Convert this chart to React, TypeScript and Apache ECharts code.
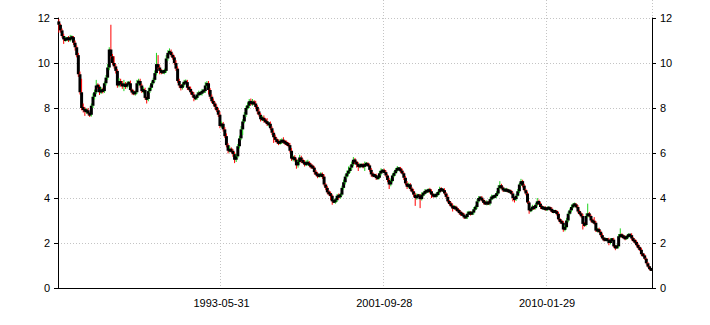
import React, { useEffect, useRef } from "react";
import * as echarts from "echarts";

// Monthly OHLC series, first bar = January 1985 (month-end business days)
const startYear = 1985;
const startMonth = 1;
const firstOpen = 11.85;

const closes = [
  11.7, 11.45, 11.2, 11.05, 11.05, 11.1, 11.05, 11.1, 11.15, 10.9,
  10.7, 10.35, 9.5, 8.7, 8.0, 7.95, 7.85, 7.9, 7.75, 7.7,
  8.1, 8.5, 8.7, 9.0, 8.95, 8.7, 8.8, 8.75, 9.1, 9.35,
  9.8, 10.6, 10.3, 10.0, 9.85, 9.65, 9.0, 9.2, 9.05, 9.0,
  9.05, 8.95, 9.1, 9.1, 8.8, 8.7, 8.65, 8.7, 9.1, 9.2,
  9.0, 8.75, 8.8, 8.45, 8.4, 8.75, 8.9, 9.1, 9.25, 9.55,
  9.95, 9.8, 9.65, 9.6, 9.6, 9.65, 10.2, 10.45, 10.5, 10.35,
  10.25, 10.0, 9.75, 9.2, 9.0, 8.9, 9.05, 9.15, 9.15, 8.9,
  8.85, 8.7, 8.6, 8.45, 8.45, 8.6, 8.65, 8.65, 8.75, 8.75,
  9.0, 9.1, 8.8, 8.5, 8.3, 8.2, 8.05, 7.9, 7.7, 7.2,
  7.3, 7.05, 6.75, 6.35, 6.1, 6.15, 6.1, 5.95, 5.7, 5.85,
  6.3, 6.65, 7.05, 7.4, 7.7, 8.0, 8.1, 8.3, 8.2, 8.25,
  8.2, 8.05, 7.85, 7.7, 7.5, 7.55, 7.45, 7.4, 7.3, 7.3,
  7.1, 6.9, 6.7, 6.6, 6.5, 6.45, 6.5, 6.55, 6.5, 6.45,
  6.4, 6.35, 6.1, 5.75, 5.8, 5.7, 5.45, 5.6, 5.8, 5.65,
  5.6, 5.5, 5.55, 5.55, 5.45, 5.4, 5.35, 5.15, 5.05, 5.0,
  5.0, 5.05, 4.95, 4.6, 4.45, 4.25, 4.2, 4.1, 3.85, 3.85,
  3.9, 4.1, 4.05, 4.15, 4.45, 4.7, 4.95, 5.1, 5.2, 5.35,
  5.5, 5.7, 5.6, 5.5, 5.4, 5.45, 5.45, 5.4, 5.5, 5.5,
  5.45, 5.25, 5.05, 5.0, 5.0, 4.9, 4.9, 5.1, 5.2, 5.2,
  5.15, 5.0, 4.8, 4.6, 4.75, 5.0, 5.1, 5.25, 5.3, 5.3,
  5.2, 5.1, 4.9, 4.65, 4.5, 4.6, 4.4, 4.3, 4.15, 4.0,
  4.1, 4.1, 3.95, 4.15, 4.2, 4.3, 4.3, 4.35, 4.3, 4.15,
  4.1, 4.1, 4.15, 4.25, 4.4, 4.35, 4.35, 4.2, 4.05, 3.85,
  3.75, 3.65, 3.55, 3.6, 3.5, 3.45, 3.35, 3.3, 3.25, 3.15,
  3.15, 3.3, 3.35, 3.3, 3.35, 3.5, 3.6, 3.85, 4.0, 4.0,
  3.9, 3.8, 3.75, 3.8, 3.75, 3.95, 4.05, 4.05, 4.1, 4.2,
  4.45, 4.55, 4.45, 4.35, 4.35, 4.35, 4.3, 4.3, 4.2, 4.0,
  3.95, 4.1, 4.3, 4.6, 4.75, 4.55, 4.35, 4.2, 3.8, 3.45,
  3.5, 3.6, 3.55, 3.7, 3.85, 3.75, 3.6, 3.55, 3.55, 3.5,
  3.55, 3.55, 3.5, 3.4, 3.4, 3.4, 3.3, 3.05, 2.95, 2.9,
  2.6, 2.7, 3.0, 3.3, 3.45, 3.6, 3.7, 3.7, 3.6, 3.4,
  3.3, 3.2, 2.85, 2.8, 3.2, 3.3, 3.2, 3.0, 2.95, 2.9,
  2.55, 2.6, 2.5, 2.35, 2.2, 2.15, 2.15, 2.15, 2.0, 2.15,
  2.15, 1.85, 1.8, 1.85, 2.3, 2.35, 2.3, 2.25, 2.2, 2.3,
  2.35, 2.35, 2.2, 2.1, 2.05, 1.9, 1.8, 1.7, 1.5, 1.45,
  1.3, 1.1, 0.95, 0.85, 0.8,
];

// Shadow length above the body (high - max(open, close))
const upperWick = [
  0.10, 0.05, 0.08, 0.10, 0.12, 0.06, 0.10, 0.15, 0.08, 0.05,
  0.10, 0.08, 0.10, 0.12, 0.60, 0.20, 0.10, 0.08, 0.10, 0.06,
  0.10, 0.15, 0.12, 0.25, 0.10, 0.08, 0.12, 0.10, 0.08, 0.12,
  0.15, 0.10, 1.10, 0.10, 0.30, 0.10, 0.08, 0.12, 0.10, 0.15,
  0.20, 0.10, 0.08, 0.10, 0.12, 0.06, 0.10, 0.08, 0.15, 0.10,
  0.10, 0.08, 0.12, 0.10, 0.06, 0.15, 0.10, 0.08, 0.10, 0.12,
  0.50, 0.40, 0.10, 0.08, 0.10, 0.10, 0.15, 0.12, 0.15, 0.10,
  0.10, 0.08, 0.12, 0.10, 0.10, 0.06, 0.08, 0.10, 0.12, 0.10,
  0.08, 0.10, 0.06, 0.10, 0.08, 0.10, 0.12, 0.08, 0.10, 0.08,
  0.15, 0.10, 0.10, 0.08, 0.10, 0.12, 0.08, 0.10, 0.10, 0.12,
  0.10, 0.08, 0.10, 0.12, 0.08, 0.15, 0.10, 0.08, 0.10, 0.12,
  0.10, 0.12, 0.15, 0.10, 0.12, 0.10, 0.15, 0.10, 0.12, 0.15,
  0.10, 0.12, 0.08, 0.10, 0.08, 0.10, 0.12, 0.10, 0.15, 0.08,
  0.10, 0.08, 0.10, 0.12, 0.08, 0.10, 0.12, 0.10, 0.15, 0.08,
  0.10, 0.08, 0.10, 0.12, 0.08, 0.10, 0.06, 0.12, 0.12, 0.08,
  0.10, 0.08, 0.12, 0.15, 0.08, 0.10, 0.08, 0.06, 0.10, 0.10,
  0.08, 0.10, 0.08, 0.10, 0.06, 0.08, 0.10, 0.08, 0.06, 0.08,
  0.10, 0.08, 0.10, 0.08, 0.10, 0.12, 0.10, 0.12, 0.20, 0.10,
  0.12, 0.12, 0.08, 0.06, 0.08, 0.10, 0.08, 0.10, 0.12, 0.10,
  0.08, 0.06, 0.08, 0.10, 0.06, 0.08, 0.10, 0.10, 0.12, 0.08,
  0.10, 0.08, 0.06, 0.10, 0.12, 0.08, 0.10, 0.08, 0.12, 0.08,
  0.08, 0.10, 0.06, 0.08, 0.10, 0.08, 0.06, 0.08, 0.10, 0.08,
  0.10, 0.08, 0.08, 0.10, 0.08, 0.10, 0.06, 0.08, 0.10, 0.08,
  0.06, 0.08, 0.10, 0.08, 0.10, 0.08, 0.06, 0.08, 0.06, 0.08,
  0.06, 0.08, 0.10, 0.08, 0.06, 0.08, 0.06, 0.08, 0.06, 0.08,
  0.08, 0.10, 0.08, 0.06, 0.08, 0.10, 0.08, 0.10, 0.08, 0.06,
  0.08, 0.06, 0.08, 0.10, 0.06, 0.08, 0.10, 0.08, 0.06, 0.10,
  0.12, 0.20, 0.08, 0.06, 0.08, 0.10, 0.06, 0.08, 0.06, 0.08,
  0.06, 0.08, 0.10, 0.08, 0.10, 0.06, 0.08, 0.06, 0.08, 0.06,
  0.08, 0.10, 0.06, 0.08, 0.15, 0.08, 0.06, 0.08, 0.06, 0.08,
  0.06, 0.08, 0.06, 0.08, 0.06, 0.08, 0.06, 0.08, 0.06, 0.08,
  0.08, 0.10, 0.12, 0.10, 0.08, 0.10, 0.08, 0.10, 0.06, 0.08,
  0.08, 0.06, 0.10, 0.08, 0.12, 0.45, 0.08, 0.06, 0.08, 0.20,
  0.08, 0.06, 0.08, 0.06, 0.08, 0.06, 0.08, 0.06, 0.08, 0.06,
  0.06, 0.08, 0.06, 0.08, 0.10, 0.30, 0.08, 0.06, 0.08, 0.06,
  0.08, 0.06, 0.08, 0.06, 0.08, 0.06, 0.08, 0.06, 0.08, 0.06,
  0.06, 0.05, 0.06, 0.05, 0.04,
];

// Shadow length below the body (min(open, close) - low)
const lowerWick = [
  0.35, 0.10, 0.08, 0.20, 0.10, 0.08, 0.12, 0.10, 0.06, 0.10,
  0.15, 0.10, 0.12, 0.10, 0.10, 0.15, 0.20, 0.10, 0.08, 0.10,
  0.08, 0.10, 0.12, 0.08, 0.10, 0.12, 0.08, 0.10, 0.08, 0.10,
  0.10, 0.12, 0.10, 0.08, 0.10, 0.12, 0.10, 0.08, 0.10, 0.15,
  0.25, 0.10, 0.08, 0.10, 0.06, 0.10, 0.08, 0.10, 0.08, 0.10,
  0.10, 0.08, 0.10, 0.08, 0.20, 0.10, 0.08, 0.10, 0.06, 0.08,
  0.10, 0.08, 0.15, 0.10, 0.08, 0.10, 0.08, 0.10, 0.06, 0.08,
  0.10, 0.08, 0.10, 0.08, 0.10, 0.12, 0.08, 0.10, 0.06, 0.10,
  0.08, 0.10, 0.12, 0.15, 0.10, 0.08, 0.10, 0.08, 0.10, 0.08,
  0.08, 0.10, 0.20, 0.10, 0.08, 0.10, 0.12, 0.08, 0.10, 0.10,
  0.08, 0.10, 0.08, 0.10, 0.12, 0.08, 0.10, 0.12, 0.15, 0.10,
  0.08, 0.10, 0.08, 0.25, 0.08, 0.10, 0.08, 0.10, 0.08, 0.10,
  0.08, 0.10, 0.12, 0.08, 0.10, 0.08, 0.10, 0.08, 0.10, 0.12,
  0.08, 0.10, 0.25, 0.12, 0.08, 0.10, 0.08, 0.10, 0.08, 0.10,
  0.08, 0.10, 0.08, 0.10, 0.12, 0.08, 0.15, 0.10, 0.08, 0.10,
  0.08, 0.10, 0.08, 0.10, 0.08, 0.10, 0.06, 0.10, 0.08, 0.12,
  0.10, 0.08, 0.10, 0.08, 0.10, 0.08, 0.10, 0.20, 0.15, 0.08,
  0.10, 0.08, 0.10, 0.08, 0.06, 0.08, 0.10, 0.08, 0.10, 0.08,
  0.10, 0.08, 0.10, 0.15, 0.20, 0.08, 0.06, 0.08, 0.20, 0.08,
  0.06, 0.08, 0.10, 0.08, 0.06, 0.10, 0.08, 0.06, 0.10, 0.08,
  0.06, 0.08, 0.10, 0.20, 0.08, 0.06, 0.08, 0.06, 0.08, 0.06,
  0.08, 0.06, 0.10, 0.08, 0.10, 0.06, 0.08, 0.06, 0.10, 0.35,
  0.08, 0.06, 0.40, 0.06, 0.08, 0.06, 0.08, 0.06, 0.10, 0.15,
  0.08, 0.06, 0.08, 0.06, 0.08, 0.06, 0.08, 0.06, 0.08, 0.06,
  0.08, 0.06, 0.15, 0.06, 0.08, 0.06, 0.08, 0.10, 0.06, 0.08,
  0.06, 0.08, 0.06, 0.08, 0.06, 0.08, 0.06, 0.08, 0.06, 0.08,
  0.06, 0.08, 0.06, 0.08, 0.06, 0.08, 0.06, 0.08, 0.06, 0.08,
  0.06, 0.08, 0.06, 0.08, 0.06, 0.08, 0.06, 0.08, 0.06, 0.15,
  0.15, 0.08, 0.06, 0.08, 0.06, 0.08, 0.06, 0.08, 0.06, 0.15,
  0.08, 0.06, 0.08, 0.06, 0.08, 0.06, 0.08, 0.06, 0.08, 0.06,
  0.08, 0.06, 0.08, 0.06, 0.08, 0.06, 0.08, 0.06, 0.08, 0.06,
  0.10, 0.08, 0.06, 0.08, 0.06, 0.08, 0.06, 0.08, 0.06, 0.08,
  0.06, 0.08, 0.25, 0.08, 0.06, 0.08, 0.06, 0.08, 0.06, 0.08,
  0.06, 0.08, 0.06, 0.08, 0.06, 0.08, 0.06, 0.08, 0.10, 0.06,
  0.08, 0.06, 0.12, 0.06, 0.08, 0.06, 0.08, 0.06, 0.08, 0.06,
  0.08, 0.06, 0.08, 0.06, 0.08, 0.06, 0.08, 0.06, 0.08, 0.06,
  0.05, 0.06, 0.05, 0.06, 0.04,
];

const yMin = 0;
const yMax = 12;
const yStep = 2;
const labelEvery = 100; // a date label every 100 bars

const UP = "#1fd41f";
const DOWN = "#ff0000";
const GRID_COLOR = "#c4c4c4";
const FONT = "Arial, 'Liberation Sans', sans-serif";

function pad(n: number) {
  return n < 10 ? "0" + n : "" + n;
}

// last business day of each month
function monthEndDates(count: number): string[] {
  const out: string[] = [];
  for (let k = 0; k < count; k++) {
    const m0 = startMonth - 1 + k;
    const y = startYear + Math.floor(m0 / 12);
    const m = m0 % 12;
    const d = new Date(Date.UTC(y, m + 1, 0));
    const wd = d.getUTCDay();
    if (wd === 6) d.setUTCDate(d.getUTCDate() - 1);
    if (wd === 0) d.setUTCDate(d.getUTCDate() - 2);
    out.push(d.getUTCFullYear() + "-" + pad(d.getUTCMonth() + 1) + "-" + pad(d.getUTCDate()));
  }
  return out;
}

export default function App() {
  const ref = useRef<HTMLDivElement>(null);

  useEffect(() => {
    if (!ref.current) return;
    const chart = echarts.init(ref.current, undefined, { renderer: "svg" });

    const dates = monthEndDates(closes.length);
    const data = closes.map((c, i) => {
      const o = i === 0 ? firstOpen : closes[i - 1];
      const hi = Math.max(o, c) + upperWick[i];
      const lo = Math.min(o, c) - lowerWick[i];
      return [i, o, c, lo, hi];
    });

    const showAt = (idx: number) => idx > 0 && idx % labelEvery === 0;

    const yAxisCommon = {
      type: "value" as const,
      gridIndex: 0,
      min: yMin,
      max: yMax,
      interval: yStep,
      axisLine: { show: true, lineStyle: { color: "#000", width: 1 } },
      axisTick: { show: true, length: 4, lineStyle: { color: "#000", width: 1 } },
      axisLabel: { color: "#000", fontSize: 11, fontFamily: FONT, margin: 8 },
    };

    chart.setOption({
      animation: false,
      backgroundColor: "#fff",
      grid: [
        { left: 58, right: 58, top: 18, bottom: 37 },
        { left: 58, right: 58, top: 0, bottom: 37 },
      ],
      xAxis: [
        {
          type: "category",
          gridIndex: 0,
          data: dates,
          boundaryGap: true,
          axisLine: { show: true, lineStyle: { color: "#000", width: 1 } },
          axisTick: { show: false },
          axisLabel: {
            interval: (idx: number) => showAt(idx),
            color: "#000",
            fontSize: 11,
            fontFamily: FONT,
            margin: 9,
          },
          splitLine: { show: false },
        },
        {
          type: "category",
          gridIndex: 1,
          data: dates,
          boundaryGap: true,
          axisLine: { show: false },
          axisTick: { show: false },
          axisLabel: { show: false },
          splitLine: {
            show: true,
            interval: (idx: number) => showAt(idx),
            lineStyle: { color: GRID_COLOR, width: 1, type: [1, 2] },
          },
        },
      ],
      yAxis: [
        {
          ...yAxisCommon,
          position: "left",
          splitLine: { show: true, lineStyle: { color: GRID_COLOR, width: 1, type: [1, 2] } },
        },
        {
          ...yAxisCommon,
          position: "right",
          splitLine: { show: false },
        },
        { type: "value", gridIndex: 1, show: false, min: 0, max: 1, splitLine: { show: false } },
      ],
      series: [
        {
          type: "custom",
          xAxisIndex: 0,
          yAxisIndex: 0,
          data,
          encode: { x: 0, y: [1, 2, 3, 4] },
          renderItem: (params: any, api: any) => {
            const i = api.value(0);
            const o = api.value(1);
            const c = api.value(2);
            const lo = api.value(3);
            const hi = api.value(4);
            const pO = api.coord([i, o]);
            const pC = api.coord([i, c]);
            const pL = api.coord([i, lo]);
            const pH = api.coord([i, hi]);
            const x = pO[0];
            const up = c >= o;
            let top = Math.min(pO[1], pC[1]);
            let bottom = Math.max(pO[1], pC[1]);
            if (bottom - top < 3) {
              const mid = (top + bottom) / 2;
              top = mid - 1.5;
              bottom = mid + 1.5;
            }
            return {
              type: "group",
              children: [
                {
                  type: "line",
                  shape: { x1: x, y1: pH[1], x2: x, y2: pL[1] },
                  style: { stroke: up ? UP : DOWN, lineWidth: 1 },
                },
                {
                  type: "rect",
                  shape: { x: x - 1.5, y: top, width: 3, height: bottom - top },
                  style: { fill: "#000" },
                },
              ],
            };
          },
        },
      ],
    });

    return () => chart.dispose();
  }, []);

  return (
    <div
      ref={ref}
      style={{ position: "absolute", left: 0, top: 0, width: 710, height: 325, background: "#fff" }}
    />
  );
}
